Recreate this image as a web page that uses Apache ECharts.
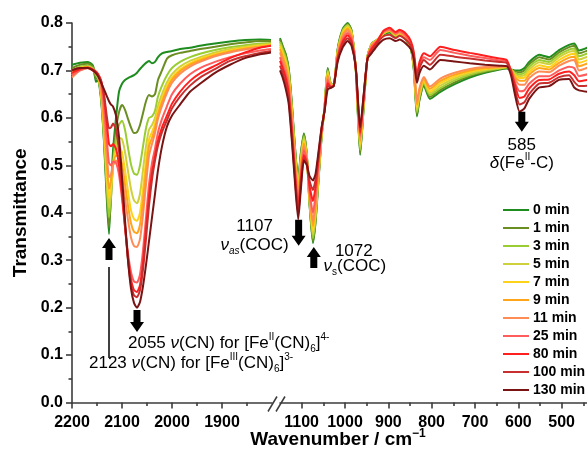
<!DOCTYPE html>
<html><head><meta charset="utf-8">
<script src="https://cdn.jsdelivr.net/npm/echarts/dist/echarts.min.js"></script>
<style>html,body{margin:0;padding:0;background:#fff}#c{width:587px;height:451px}</style>
</head><body><div id="c"></div>
<script>
// ---------------- DATA ----------------
const seriesNames = ['0 min','1 min','3 min','5 min','7 min','9 min','11 min','25 min','80 min','100 min','130 min'];
const leftTicks = [2200, 2100, 2000, 1900];
const leftMinorTicks = [2150, 2050, 1950, 1850];
const rightTicks = [1100, 1000, 900, 800, 700, 600, 500];
const rightMinorTicks = [1050, 950, 850, 750, 650, 550, 450];

const leftWN = [2200,2184,2168,2158,2152,2148,2142,2136,2130,2126,2122,2118,2112,2106,2100,2094,2088,2082,2076,2070,2064,2058,2052,2046,2040,2034,2028,2020,2010,2000,1984,1964,1944,1914,1884,1854,1824,1802];
const L0   = [.712,.716,.718,.710,.676,.680,.640,.550,.420,.355,.450,.530,.600,.655,.672,.680,.684,.687,.690,.695,.703,.710,.716,.720,.715,.718,.728,.736,.739,.741,.745,.748,.752,.757,.761,.764,.765,.764];
const L1   = [.705,.712,.714,.708,.682,.684,.645,.555,.435,.370,.430,.510,.575,.612,.627,.617,.598,.580,.568,.570,.585,.610,.635,.648,.645,.650,.680,.700,.725,.732,.737,.741,.745,.750,.755,.759,.762,.762];
const L3   = [.700,.708,.710,.705,.690,.686,.648,.560,.450,.390,.435,.500,.555,.585,.594,.575,.537,.502,.483,.480,.500,.540,.578,.600,.603,.615,.645,.668,.690,.705,.718,.728,.735,.743,.749,.753,.757,.758];
const L5   = [.698,.706,.708,.703,.695,.688,.652,.570,.460,.410,.445,.500,.540,.558,.555,.528,.488,.450,.426,.420,.440,.490,.540,.575,.585,.600,.625,.650,.675,.692,.708,.720,.728,.738,.745,.750,.754,.756];
const L7   = [.695,.705,.707,.702,.695,.690,.657,.580,.480,.430,.455,.500,.530,.540,.527,.490,.445,.405,.387,.383,.400,.450,.510,.555,.570,.588,.615,.640,.667,.685,.702,.715,.724,.734,.742,.748,.752,.754];
const L9   = [.690,.702,.706,.700,.693,.688,.660,.590,.500,.450,.468,.500,.520,.520,.503,.460,.415,.378,.360,.357,.375,.425,.490,.540,.558,.578,.607,.633,.660,.680,.698,.712,.721,.732,.740,.746,.750,.753];
const L11  = [.685,.700,.705,.700,.694,.690,.665,.605,.520,.475,.480,.500,.510,.502,.478,.430,.385,.348,.330,.328,.345,.395,.460,.520,.545,.568,.598,.625,.653,.674,.693,.708,.718,.730,.738,.744,.749,.752];
const L25  = [.690,.700,.705,.700,.695,.690,.675,.625,.550,.505,.500,.508,.505,.480,.430,.370,.315,.275,.255,.253,.270,.320,.390,.460,.505,.535,.570,.598,.625,.650,.672,.692,.705,.718,.728,.736,.742,.745];
const L80  = [.695,.703,.706,.702,.698,.693,.680,.645,.585,.545,.540,.545,.535,.500,.440,.370,.305,.260,.237,.233,.248,.295,.365,.435,.485,.520,.552,.580,.605,.630,.655,.678,.694,.710,.726,.738,.748,.752];
const L100 = [.700,.705,.705,.700,.695,.690,.678,.650,.600,.578,.580,.588,.575,.530,.455,.375,.300,.250,.226,.222,.237,.280,.345,.415,.470,.510,.542,.570,.595,.620,.645,.668,.685,.703,.720,.730,.737,.741];
const L130 = [.700,.705,.705,.700,.694,.688,.675,.660,.645,.635,.628,.624,.605,.560,.475,.385,.300,.240,.210,.200,.212,.245,.290,.340,.390,.440,.490,.540,.582,.605,.628,.655,.672,.695,.712,.726,.734,.738];

const rightWN = [1150,1144,1137,1130,1123,1116,1108,1102,1095,1088,1082,1074,1068,1061,1054,1047,1040,1033,1026,1017,1005,994,985,975,965,957,948,938,925,911,897,883,874,860,848,841,834,828,818,804,780,747,712,677,643,627,617,608,597,586,575,552,529,506,483,471,460,440];
const R0   = [.768,.752,.735,.705,.635,.545,.470,.525,.567,.520,.420,.336,.380,.470,.560,.625,.705,.672,.670,.745,.788,.800,.785,.700,.522,.620,.730,.757,.765,.776,.780,.770,.775,.765,.745,.700,.603,.638,.668,.640,.655,.671,.685,.695,.702,.704,.702,.700,.700,.705,.718,.733,.728,.743,.754,.757,.742,.748];
const R1   = [.765,.750,.733,.703,.632,.542,.466,.522,.565,.520,.422,.340,.383,.472,.561,.624,.703,.672,.670,.743,.786,.798,.784,.700,.526,.622,.730,.757,.765,.777,.782,.772,.776,.766,.746,.702,.607,.641,.671,.644,.659,.675,.688,.697,.703,.705,.702,.698,.696,.700,.713,.728,.723,.738,.749,.752,.736,.742];
const R3   = [.760,.745,.728,.698,.626,.536,.460,.516,.561,.518,.425,.346,.389,.476,.563,.623,.700,.671,.670,.741,.784,.796,.782,.701,.532,.625,.729,.756,.765,.778,.783,.773,.777,.767,.747,.705,.612,.645,.674,.648,.663,.679,.691,.699,.704,.706,.702,.695,.692,.695,.708,.722,.718,.733,.744,.746,.730,.736];
const R5   = [.755,.740,.722,.692,.620,.530,.453,.510,.556,.517,.428,.354,.396,.481,.565,.622,.697,.670,.669,.739,.782,.794,.780,.701,.538,.628,.729,.756,.765,.778,.784,.774,.778,.768,.748,.708,.617,.649,.677,.652,.668,.683,.694,.701,.705,.707,.702,.692,.688,.690,.702,.717,.713,.728,.739,.741,.723,.729];
const R7   = [.750,.735,.717,.686,.613,.523,.446,.504,.551,.515,.432,.362,.404,.486,.567,.621,.694,.669,.669,.737,.779,.791,.777,.702,.544,.631,.728,.755,.764,.779,.784,.775,.779,.769,.749,.711,.622,.653,.680,.656,.673,.687,.697,.703,.706,.708,.702,.689,.684,.685,.697,.711,.707,.722,.733,.735,.716,.722];
const R9   = [.745,.730,.711,.680,.606,.516,.438,.497,.546,.514,.436,.372,.412,.491,.569,.620,.690,.668,.669,.735,.776,.788,.774,.702,.550,.634,.728,.754,.764,.780,.785,.776,.780,.770,.750,.714,.628,.658,.683,.661,.678,.691,.700,.705,.707,.709,.702,.686,.678,.678,.691,.705,.702,.716,.727,.729,.709,.715];
const R11  = [.738,.722,.703,.672,.598,.508,.430,.490,.540,.512,.440,.382,.421,.497,.571,.619,.686,.667,.668,.732,.772,.784,.771,.703,.556,.637,.727,.753,.764,.781,.785,.777,.781,.771,.751,.717,.634,.663,.686,.666,.683,.695,.703,.707,.708,.709,.701,.682,.670,.670,.684,.698,.696,.710,.720,.722,.700,.706];
const R25  = [.728,.712,.693,.662,.588,.498,.418,.480,.532,.510,.448,.400,.437,.506,.573,.618,.680,.666,.668,.729,.767,.779,.767,.703,.562,.640,.727,.750,.763,.782,.787,.778,.783,.774,.756,.728,.685,.712,.728,.722,.743,.737,.731,.726,.721,.719,.700,.675,.656,.658,.672,.688,.688,.700,.708,.705,.688,.692];
const R80  = [.720,.705,.685,.652,.578,.490,.408,.470,.522,.505,.458,.425,.455,.515,.576,.617,.673,.665,.668,.726,.761,.774,.762,.704,.568,.643,.726,.746,.762,.784,.790,.781,.786,.778,.762,.738,.690,.718,.736,.730,.750,.743,.737,.731,.725,.722,.700,.670,.642,.645,.662,.680,.681,.693,.698,.690,.677,.680];
const R100 = [.710,.695,.673,.640,.566,.480,.396,.458,.515,.502,.468,.448,.470,.523,.578,.616,.667,.664,.667,.722,.755,.768,.757,.704,.574,.646,.725,.741,.758,.772,.775,.768,.773,.765,.752,.730,.680,.705,.722,.712,.733,.729,.725,.721,.718,.716,.695,.660,.628,.633,.650,.672,.674,.686,.690,.676,.667,.668];
const R130 = [.700,.685,.662,.630,.556,.470,.386,.448,.510,.500,.478,.468,.482,.530,.580,.615,.660,.663,.667,.718,.749,.762,.752,.705,.580,.648,.725,.737,.753,.765,.768,.762,.765,.757,.745,.722,.674,.695,.710,.702,.722,.719,.715,.712,.710,.709,.690,.650,.613,.620,.640,.664,.667,.680,.682,.664,.658,.655];

const leftSets  = [L0, L1, L3, L5, L7, L9, L11, L25, L80, L100, L130];
const rightSets = [R0, R1, R3, R5, R7, R9, R11, R25, R80, R100, R130];

// ---------------- STYLE ----------------
const seriesColors = ['#1e8c1e','#6b8e23','#9acd32','#cfd13c','#ffd21a','#ffa51a','#ff8c55','#ff5c5c','#ff1f1f','#c83030','#7a1414'];
const FONT = '"Liberation Sans", Arial, Helvetica, sans-serif';
const AX = '#3c3c3c';

const chart = echarts.init(document.getElementById('c'), null, {renderer: 'canvas'});

const tickLabel = {color: '#000', fontFamily: FONT, fontWeight: 'bold', fontSize: 16};

function majorAxis(grid, min, max, ticks, labels) {
  return {
    type: 'value', gridIndex: grid, position: 'bottom', min: min, max: max, inverse: true, interval: 100,
    axisLine: {show: true, onZero: false, lineStyle: {color: AX, width: 1.6}},
    axisTick: {show: true, length: 6, customValues: ticks, lineStyle: {color: AX, width: 1.6}},
    axisLabel: {show: true, margin: 12, customValues: labels, formatter: v => String(v), ...tickLabel},
    splitLine: {show: false}
  };
}
function minorAxis(grid, min, max, ticks) {
  return {
    type: 'value', gridIndex: grid, position: 'bottom', min: min, max: max, inverse: true, interval: 100,
    axisLine: {show: false, onZero: false},
    axisTick: {show: true, length: 3.5, customValues: ticks, lineStyle: {color: AX, width: 1.6}},
    axisLabel: {show: false},
    splitLine: {show: false}
  };
}

const series = [];
seriesNames.forEach((name, i) => {
  series.push({
    name: name, type: 'line', xAxisIndex: 0, yAxisIndex: 0,
    data: leftWN.map((w, k) => [w, leftSets[i][k]]),
    symbol: 'none', showSymbol: false, smooth: 0.2, clip: true,
    lineStyle: {color: seriesColors[i], width: 2}, itemStyle: {color: seriesColors[i]}, z: 2 + i
  });
  series.push({
    name: name, type: 'line', xAxisIndex: 2, yAxisIndex: 1,
    data: rightWN.map((w, k) => [w, rightSets[i][k]]),
    symbol: 'none', showSymbol: false, smooth: 0.2, clip: true,
    lineStyle: {color: seriesColors[i], width: 2}, itemStyle: {color: seriesColors[i]}, z: 2 + i
  });
});

const option = {
  animation: false,
  backgroundColor: '#ffffff',
  grid: [
    {left: 72, top: 23, width: 200, height: 379.5, outerBoundsMode: 'none', containLabel: false},
    {left: 280, top: 23, width: 325, height: 379.5, outerBoundsMode: 'none', containLabel: false}
  ],
  xAxis: [
    majorAxis(0, 1800, 2200, leftTicks, leftTicks),
    minorAxis(0, 1800, 2200, leftMinorTicks),
    majorAxis(1, 400, 1150, rightTicks.concat([400]), rightTicks),
    minorAxis(1, 400, 1150, rightMinorTicks)
  ],
  yAxis: [
    {
      type: 'value', gridIndex: 0, min: 0, max: 0.8, interval: 0.1,
      name: 'Transmittance', nameLocation: 'middle', nameGap: 42, nameRotate: 90,
      nameTextStyle: {color: '#000', fontFamily: FONT, fontWeight: 'bold', fontSize: 19},
      axisLine: {show: true, onZero: false, lineStyle: {color: AX, width: 1.6}},
      axisTick: {show: true, length: 6, lineStyle: {color: AX, width: 1.6}},
      minorTick: {show: true, splitNumber: 2, length: 3.5, lineStyle: {color: AX, width: 1.6}},
      axisLabel: {margin: 9, formatter: v => v.toFixed(1), ...tickLabel},
      splitLine: {show: false}
    },
    {type: 'value', gridIndex: 1, min: 0, max: 0.8, interval: 0.1, show: false}
  ],
  legend: {show: false},
  series: series
};
chart.setOption(option);

// ---------------- ANNOTATIONS ----------------
const P = (axisX, axisY, wn, v) => chart.convertToPixel({xAxisIndex: axisX, yAxisIndex: axisY}, [wn, v]);
function downArrow(x, top, len) {
  return {type: 'polygon', z: 100, shape: {points: [[x-3.5, top],[x+3.5, top],[x+3.5, top+len-10],[x+7, top+len-10],[x, top+len],[x-7, top+len-10],[x-3.5, top+len-10]]}, style: {fill: '#000'}};
}
function upArrow(x, tip, len) {
  return {type: 'polygon', z: 100, shape: {points: [[x, tip],[x+7, tip+10],[x+3.5, tip+10],[x+3.5, tip+len],[x-3.5, tip+len],[x-3.5, tip+10],[x-7, tip+10]]}, style: {fill: '#000'}};
}
const rich = {
  n:   {fontFamily: FONT, fontSize: 17, lineHeight: 22, fill: '#000', color: '#000'},
  i:   {fontFamily: FONT, fontSize: 17, lineHeight: 22, fontStyle: 'italic', fill: '#000', color: '#000'},
  sup: {fontFamily: FONT, fontSize: 10, lineHeight: 12, verticalAlign: 'top', fill: '#000', color: '#000'},
  sub: {fontFamily: FONT, fontSize: 10, lineHeight: 10, verticalAlign: 'bottom', fill: '#000', color: '#000'},
  isub:{fontFamily: FONT, fontSize: 10, lineHeight: 10, fontStyle: 'italic', verticalAlign: 'bottom', fill: '#000', color: '#000'},
  b:   {fontFamily: FONT, fontSize: 19, lineHeight: 24, fontWeight: 'bold', fill: '#000', color: '#000'},
  bsup:{fontFamily: FONT, fontSize: 12, lineHeight: 13, fontWeight: 'bold', verticalAlign: 'top', fill: '#000', color: '#000'},
  lg:  {fontFamily: FONT, fontSize: 14, lineHeight: 16, fontWeight: 'bold', fill: '#000', color: '#000'}
};
function txt(x, y, text, align) {
  return {type: 'text', z: 100, x: x, y: y, style: {text: text, rich: rich, align: align, verticalAlign: 'middle', textAlign: align, textVerticalAlign: 'middle', fill: '#000'}};
}

const a2123 = P(0, 0, 2126, 0.347);
const a2055 = P(0, 0, 2070, 0.195);
const a1107 = P(2, 1, 1107, 0.385);
const a1072 = P(2, 1, 1072, 0.328);
const a585  = P(2, 1, 592, 0.613);
const base  = P(0, 0, 1800, 0);

const graphics = [
  upArrow(a2123[0], a2123[1], 22),
  {type: 'line', z: 100, shape: {x1: a2123[0], y1: a2123[1] + 29, x2: a2123[0], y2: a2123[1] + 120}, style: {stroke: '#000', lineWidth: 1.5}},
  txt(a2123[0] - 20, a2123[1] + 125, '{n|2123 }{i|ν}{n|(CN) for [Fe}{sup|III}{n|(CN)}{sub|6}{n|]}{sup|3-}', 'left'),
  downArrow(a2055[0], a2055[1], 22),
  txt(a2055[0] - 9, a2055[1] + 33, '{n|2055 }{i|ν}{n|(CN) for [Fe}{sup|II}{n|(CN)}{sub|6}{n|]}{sup|4-}', 'left'),
  downArrow(a1107[0], a1107[1], 26),
  txt(a1107[0] - 44, a1107[1] + 6, '{n|1107}', 'center'),
  txt(a1107[0] - 44, a1107[1] + 25, '{i|ν}{isub|as}{n|(COC)}', 'center'),
  upArrow(a1072[0], a1072[1], 21),
  txt(a1072[0] + 40, a1072[1] + 4, '{n|1072}', 'center'),
  txt(a1072[0] + 41, a1072[1] + 19, '{i|ν}{sub|s}{n|(COC)}', 'center'),
  downArrow(a585[0], a585[1], 20),
  txt(a585[0], a585[1] + 34, '{n|585}', 'center'),
  txt(a585[0], a585[1] + 52, '{i|δ}{n|(Fe}{sup|II}{n|-C)}', 'center'),
  // axis break marks
  {type: 'line', z: 100, shape: {x1: base[0] - 4, y1: base[1] + 9, x2: base[0] + 5, y2: base[1] - 6}, style: {stroke: AX, lineWidth: 1.5}},
  {type: 'line', z: 100, shape: {x1: base[0] + 4, y1: base[1] + 9, x2: base[0] + 13, y2: base[1] - 6}, style: {stroke: AX, lineWidth: 1.5}},
  // x axis title
  txt(338, 440, '{b|Wavenumber / cm}{bsup|−1}', 'center')
];
// legend (line swatch + label per series)
seriesNames.forEach((name, i) => {
  const y = 210 + 18 * i;
  graphics.push({type: 'line', z: 100, shape: {x1: 503, y1: y, x2: 529, y2: y}, style: {stroke: seriesColors[i], lineWidth: 2}});
  graphics.push(txt(533, y, '{lg|' + name + '}', 'left'));
});
chart.setOption({graphic: graphics});
</script>
</body></html>
